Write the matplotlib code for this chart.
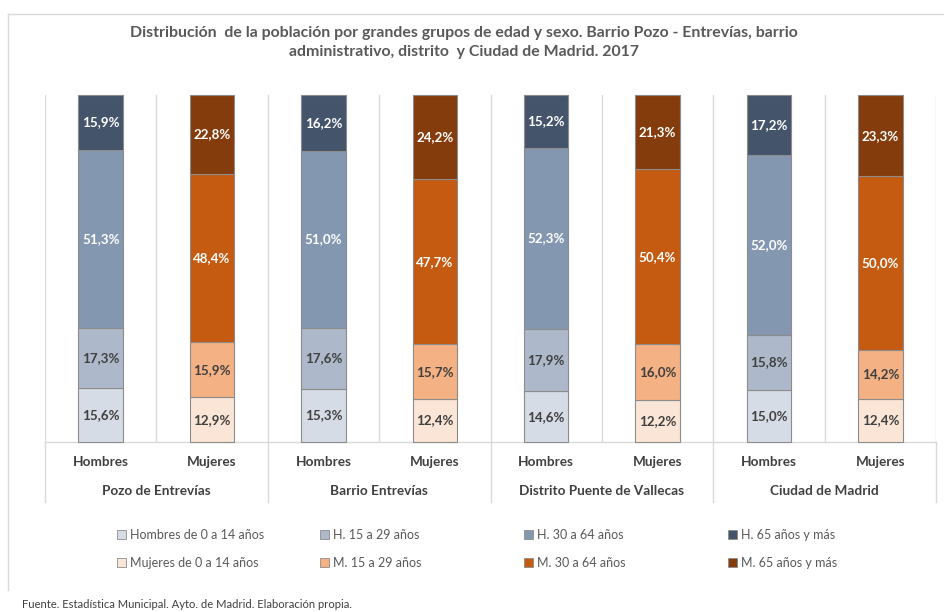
import matplotlib
matplotlib.use("Agg")
import matplotlib.pyplot as plt
from matplotlib.patches import Patch
from matplotlib.lines import Line2D

plt.rcParams['font.family'] = ['Lato', 'DejaVu Sans']

# ---- data ----
groups = ["Pozo de Entrevías", "Barrio Entrevías", "Distrito Puente de Vallecas", "Ciudad de Madrid"]
sexes = ["Hombres", "Mujeres"]

hombres_0_14 = [15.6, 15.3, 14.6, 15.0]
hombres_15_29 = [17.3, 17.6, 17.9, 15.8]
hombres_30_64 = [51.3, 51.0, 52.3, 52.0]
hombres_65 = [15.9, 16.2, 15.2, 17.2]

mujeres_0_14 = [12.9, 12.4, 12.2, 12.4]
mujeres_15_29 = [15.9, 15.7, 16.0, 14.2]
mujeres_30_64 = [48.4, 47.7, 50.4, 50.0]
mujeres_65 = [22.8, 24.2, 21.3, 23.3]

h_labels = ["Hombres de 0 a 14 años", "H. 15 a 29 años", "H. 30 a 64 años", "H. 65 años y más"]
m_labels = ["Mujeres de 0 a 14 años", "M. 15 a 29 años", "M. 30 a 64 años", "M. 65 años y más"]

h_colors = ["#D6DCE5", "#ADB9CA", "#8497B0", "#44546A"]
m_colors = ["#FBE5D6", "#F4B183", "#C55A11", "#843C0C"]
txt_colors = ["#404040", "#404040", "white", "white"]

title_lines = ["Distribución  de la población por grandes grupos de edad y sexo. Barrio Pozo - Entrevías, barrio",
               "administrativo, distrito  y Ciudad de Madrid. 2017"]
source = "Fuente. Estadística Municipal. Ayto. de Madrid. Elaboración propia."

W, H = 944, 612
fig = plt.figure(figsize=(W / 100, H / 100), dpi=100)
ax_l, ax_r, ax_t, ax_b = 45, 936, 95, 442
ax = fig.add_axes([ax_l / W, 1 - ax_b / H, (ax_r - ax_l) / W, (ax_b - ax_t) / H])

h_series = [hombres_0_14, hombres_15_29, hombres_30_64, hombres_65]
m_series = [mujeres_0_14, mujeres_15_29, mujeres_30_64, mujeres_65]

h_x = [2 * i for i in range(len(groups))]
m_x = [2 * i + 1 for i in range(len(groups))]

bw = 0.4
for xs, series, colors in [(h_x, h_series, h_colors), (m_x, m_series, m_colors)]:
    bottoms = [0.0] * len(xs)
    for k, vals in enumerate(series):
        ax.bar(xs, vals, bw, bottom=bottoms, color=colors[k], edgecolor="#8C8C8C",
               linewidth=0.8, zorder=3, clip_on=False)
        for x, b, v in zip(xs, bottoms, vals):
            ax.text(x, b + v / 2, f"{v:.1f}%".replace(".", ","), ha="center", va="center",
                    fontsize=9.6, fontweight="bold", color=txt_colors[k], zorder=4)
        bottoms = [b + v for b, v in zip(bottoms, vals)]

ax.set_xlim(-0.5, 2 * len(groups) - 0.5)
ax.set_ylim(0, 100)
ax.set_yticks([])
ax.set_xticks([])
for s in ["top", "left", "right"]:
    ax.spines[s].set_visible(False)
ax.spines["bottom"].set_color("#D9D9D9")
ax.spines["bottom"].set_linewidth(1.0)

grid_c = "#D9D9D9"
for xb in [i - 0.5 for i in range(2 * len(groups) + 1)]:
    ax.axvline(xb, 0, 1, color=grid_c, linewidth=1.0, zorder=1)

tr = ax.get_xaxis_transform()
for g in range(len(groups) + 1):
    ax.add_line(Line2D([2 * g - 0.5, 2 * g - 0.5], [0, -0.173], transform=tr,
                       color=grid_c, linewidth=1.0, clip_on=False))

for x in h_x:
    ax.text(x, -0.0576, sexes[0], transform=tr, ha="center", va="center",
            fontsize=9.8, fontweight="bold", color="#404040")
for x in m_x:
    ax.text(x, -0.0576, sexes[1], transform=tr, ha="center", va="center",
            fontsize=9.8, fontweight="bold", color="#404040")
for g, name in enumerate(groups):
    ax.text(2 * g + 0.5, -0.141, name, transform=tr, ha="center", va="center",
            fontsize=9.8, fontweight="bold", color="#404040")

for i, (line, yp) in enumerate(zip(title_lines, [33, 52])):
    fig.text(464 / W, 1 - yp / H, line, ha="center", va="center", fontsize=11.4,
             fontweight="bold", color="#595959")

# chart frame
fig.add_artist(Line2D([8 / W, 8 / W], [1 - 14 / H, 1 - 590 / H], transform=fig.transFigure,
                      color="#D9D9D9", linewidth=1.0))
fig.add_artist(Line2D([8 / W, 1.0], [1 - 14 / H, 1 - 14 / H], transform=fig.transFigure,
                      color="#D9D9D9", linewidth=1.0))

# legends: 4 columns
col_x = [117, 320, 524, 728]
for k in range(4):
    handles = [Patch(facecolor=h_colors[k], edgecolor="#8C8C8C", linewidth=0.6),
               Patch(facecolor=m_colors[k], edgecolor="#8C8C8C", linewidth=0.6)]
    leg = fig.legend(handles, [h_labels[k], m_labels[k]], loc="upper left",
                     bbox_to_anchor=(col_x[k] / W, 1 - 529 / H), frameon=False,
                     fontsize=9, handlelength=0.75, handleheight=0.75, handletextpad=0.3,
                     labelspacing=1.25, borderpad=0, borderaxespad=0)
    for t in leg.get_texts():
        t.set_color("#595959")

fig.text(22 / W, 1 - 604 / H, source, ha="left", va="center", fontsize=8.1, color="#404040")

fig.savefig("out.png", dpi=100)
